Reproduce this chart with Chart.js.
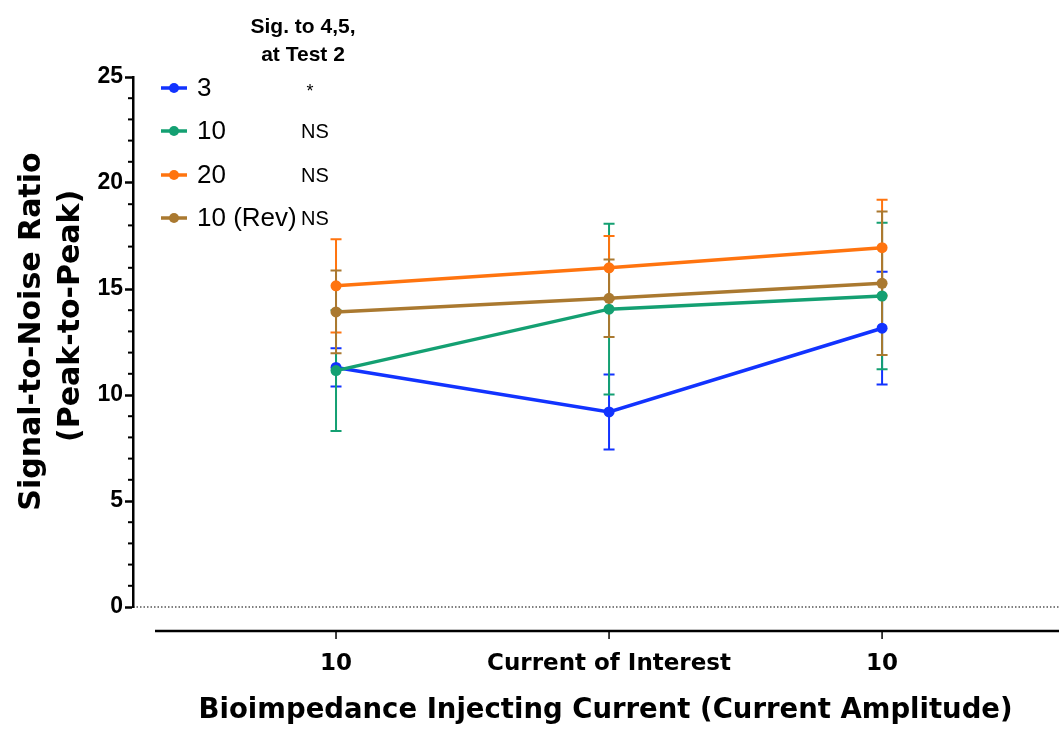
<!DOCTYPE html>
<html>
<head>
<meta charset="utf-8">
<script src="https://cdn.jsdelivr.net/npm/chart.js@4"></script>
<style>
  html, body { margin: 0; padding: 0; background: #fff; }
  #wrap { width: 1059px; height: 729px; }
</style>
</head>
<body>
<div id="wrap"><canvas id="snrChart"></canvas></div>
<script>
// categories along x, one per injecting current step
const categories = ['10', 'Current of Interest', '10'];
const seriesNames = ['3', '10', '20', '10 (Rev)'];
const sigMarks = ['*', 'NS', 'NS', 'NS'];
const seriesColors = ['#1233ff', '#14a072', '#ff740f', '#aa7930'];

// mean signal-to-noise ratio and error (half bar) per series
const snr3 = [11.3, 9.2, 13.15];
const err3 = [0.9, 1.77, 2.66];
const snr10 = [11.15, 14.05, 14.67];
const err10 = [2.85, 4.03, 3.46];
const snr20 = [15.15, 16.0, 16.95];
const err20 = [2.2, 1.5, 2.26];
const snr10Rev = [13.92, 14.56, 15.27];
const err10Rev = [1.95, 1.83, 3.38];

const yTicks = [0, 5, 10, 15, 20, 25];

const means = [snr3, snr10, snr20, snr10Rev];
const errors = [err3, err10, err20, err10Rev];

const FONT = "'Liberation Sans', Arial, Helvetica, sans-serif";
const WIDE = "'DejaVu Sans', 'Liberation Sans', sans-serif";
const X_MIN = 0.2564, X_MAX = 3.648;

const decor = {
  id: 'decor',
  beforeDatasetsDraw(chart) {
    const {ctx, chartArea, scales: {x, y}} = chart;
    ctx.save();
    // dotted line at zero
    const y0 = y.getPixelForValue(0);
    ctx.strokeStyle = '#000';
    ctx.lineWidth = 1.2;
    ctx.setLineDash([1.5, 2]);
    ctx.beginPath();
    ctx.moveTo(chartArea.left, y0);
    ctx.lineTo(chart.width, y0);
    ctx.stroke();
    ctx.setLineDash([]);

    // error bars with caps
    chart.data.datasets.forEach((ds, i) => {
      ctx.strokeStyle = ds.borderColor;
      ctx.lineWidth = 2;
      ds.data.forEach((p, j) => {
        const e = errors[i][j];
        const px = x.getPixelForValue(p.x);
        const top = y.getPixelForValue(p.y + e);
        const bot = y.getPixelForValue(p.y - e);
        ctx.beginPath();
        ctx.moveTo(px, top); ctx.lineTo(px, bot);
        ctx.moveTo(px - 5.5, top); ctx.lineTo(px + 5.5, top);
        ctx.moveTo(px - 5.5, bot); ctx.lineTo(px + 5.5, bot);
        ctx.stroke();
      });
    });
    ctx.restore();
  },
  afterDraw(chart) {
    const {ctx, chartArea, scales: {x, y}} = chart;
    ctx.save();

    // minor y ticks
    ctx.strokeStyle = '#000';
    ctx.lineWidth = 2;
    for (let v = 1; v < 25; v++) {
      if (v % 5 === 0) continue;
      const py = y.getPixelForValue(v);
      ctx.beginPath();
      ctx.moveTo(chartArea.left - 5, py);
      ctx.lineTo(chartArea.left, py);
      ctx.stroke();
    }

    // detached x axis line with ticks
    const axisY = y.getPixelForValue(0) + 24;
    ctx.lineWidth = 2.5;
    ctx.beginPath();
    ctx.moveTo(chartArea.left + 22, axisY);
    ctx.lineTo(chart.width, axisY);
    ctx.stroke();
    ctx.lineWidth = 1.5;
    categories.forEach((c, i) => {
      const px = x.getPixelForValue(i + 1);
      ctx.beginPath();
      ctx.moveTo(px, axisY);
      ctx.lineTo(px, axisY + 8);
      ctx.stroke();
    });

    // legend with significance column
    ctx.fillStyle = '#000';
    ctx.textAlign = 'center';
    ctx.textBaseline = 'middle';
    ctx.font = 'bold 21px ' + FONT;
    ctx.fillText('Sig. to 4,5,', 303, 27);
    ctx.fillText('at Test 2', 303, 55);

    const rows = [88, 131, 175, 218];
    seriesNames.forEach((name, i) => {
      const ry = rows[i];
      ctx.strokeStyle = seriesColors[i];
      ctx.fillStyle = seriesColors[i];
      ctx.lineWidth = 3.5;
      ctx.beginPath();
      ctx.moveTo(161, ry);
      ctx.lineTo(187, ry);
      ctx.stroke();
      ctx.beginPath();
      ctx.arc(174, ry, 5, 0, Math.PI * 2);
      ctx.fill();

      ctx.fillStyle = '#000';
      ctx.textAlign = 'left';
      ctx.font = '26px ' + FONT;
      ctx.fillText(name, 197, ry + 1);
      ctx.textAlign = 'center';
      if (sigMarks[i] === '*') {
        ctx.font = '18px ' + FONT;
        ctx.fillText('*', 310, ry + 4);
      } else {
        ctx.font = '20px ' + FONT;
        ctx.fillText(sigMarks[i], 315, ry + 1);
      }
    });
    ctx.restore();
  }
};

const datasets = means.map((vals, i) => ({
  label: seriesNames[i],
  data: vals.map((v, j) => ({x: j + 1, y: v})),
  borderColor: seriesColors[i],
  backgroundColor: seriesColors[i],
  pointBackgroundColor: seriesColors[i],
  pointBorderWidth: 0,
  pointRadius: 5.5,
  borderWidth: 3.5,
  order: seriesNames.length - i,
  clip: false
}));

new Chart(document.getElementById('snrChart'), {
  type: 'line',
  data: { datasets },
  plugins: [decor],
  options: {
    responsive: true,
    maintainAspectRatio: false,
    animation: false,
    layout: { autoPadding: false, padding: { top: 77, right: 0, left: 0, bottom: 0 } },
    plugins: {
      legend: { display: false },
      tooltip: { enabled: false }
    },
    scales: {
      x: {
        type: 'linear',
        min: X_MIN,
        max: X_MAX,
        bounds: 'data',
        afterFit: s => { s.height = 122; s.paddingLeft = 0; s.paddingRight = 0; },
        afterBuildTicks: s => {
          s.ticks = categories.map((c, i) => ({ value: i + 1 }));
          s.min = X_MIN;
          s.max = X_MAX;
        },
        grid: { display: false, drawTicks: true, tickLength: 40 },
        border: { display: false },
        ticks: {
          callback: v => categories[v - 1],
          color: '#000',
          padding: 3,
          maxRotation: 0,
          autoSkip: false,
          font: { family: WIDE, weight: 'bold', size: 23 }
        },
        title: {
          display: true,
          text: '  Bioimpedance Injecting Current (Current Amplitude)',
          color: '#000',
          padding: { top: 0, bottom: 2 },
          font: { family: WIDE, weight: 'bold', size: 27.5 }
        }
      },
      y: {
        min: 0,
        max: 25,
        afterFit: s => { s.width = 133; },
        afterBuildTicks: s => { s.ticks = yTicks.map(v => ({ value: v })); },
        border: { color: '#000', width: 2.5 },
        grid: { drawOnChartArea: false, tickLength: 8, tickWidth: 2.5, color: '#000' },
        ticks: {
          color: '#000',
          padding: 2,
          font: { family: FONT, weight: 'bold', size: 23 }
        },
        title: {
          display: true,
          text: ['  Signal-to-Noise Ratio', '     (Peak-to-Peak)'],
          color: '#000',
          padding: { top: 13, bottom: 0 },
          font: { family: WIDE, weight: 'bold', size: 30, lineHeight: 1.3 }
        }
      }
    }
  }
});
</script>
</body>
</html>
